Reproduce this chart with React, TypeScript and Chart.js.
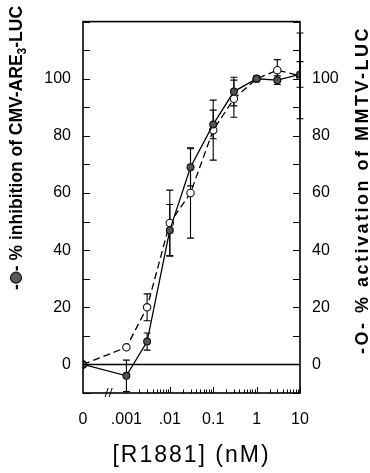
import React, { useEffect, useRef } from 'react';
import { Chart, registerables } from 'chart.js';

Chart.register(...registerables);

// ---- data ----
const DOSES = [0, 0.001, 0.003, 0.01, 0.03, 0.1, 0.3, 1, 3, 10];
const INHIBITION = [0, -4, 8, 47, 69, 84, 95.5, 100, 99.5, 101.5];
const INHIBITION_ERR = [0, 5.5, 3, 9, 6.5, 5, 5, 1, 1.5, 4.5];
const ACTIVATION = [0, 6, 20, 49.5, 60, 82, 93, 100, 103, 101];
const ACTIVATION_ERR = [0, 0, 4.7, 11.5, 15.8, 10.5, 6.5, 0, 3.7, 15];

const X_TICK_VALUES = [0, 0.001, 0.01, 0.1, 1, 10];
const X_TICK_LABELS = ['0', '.001', '.01', '0.1', '1', '10'];
const Y_LABEL_VALUES = [0, 20, 40, 60, 80, 100];
const Y_MIN = -10;
const Y_MAX = 120;
const Y_STEP = 10;

// the dose "0" sits at the left end of the broken log axis
const ZERO_AT = 1e-4;
const BREAK_AT = 4e-4;
const MINOR_FROM_EXP = -3;
const MINOR_TO_EXP = 1;

const FONT = '"Liberation Sans", Arial, Helvetica, sans-serif';

const toX = (d: number) => (d === 0 ? ZERO_AT : d);

function drawParts(
  ctx: CanvasRenderingContext2D,
  cx: number,
  cy: number,
  parts: any[],
  font: string,
  subFont: string,
  spacing: number
) {
  ctx.save();
  ctx.translate(cx, cy);
  ctx.rotate(-Math.PI / 2);
  (ctx as any).letterSpacing = spacing + 'px';
  ctx.textBaseline = 'alphabetic';
  ctx.textAlign = 'left';
  const widths = parts.map((p) => {
    if (p.circle) return p.circle * 2 + 2;
    ctx.font = p.sub ? subFont : font;
    return ctx.measureText(p.sub ? p.sub : p.t).width;
  });
  const total = widths.reduce((a, b) => a + b, 0);
  let x = -total / 2;
  const base = 6;
  parts.forEach((p, i) => {
    if (p.circle) {
      ctx.beginPath();
      ctx.arc(x + widths[i] / 2, base - 6, p.circle, 0, Math.PI * 2);
      ctx.fillStyle = '#5a5a5a';
      ctx.fill();
      ctx.lineWidth = 1.2;
      ctx.strokeStyle = '#111';
      ctx.stroke();
    } else {
      ctx.fillStyle = '#000';
      ctx.font = p.sub ? subFont : font;
      ctx.fillText(p.sub ? p.sub : p.t, x, p.sub ? base + 4 : base);
    }
    x += widths[i];
  });
  ctx.restore();
}

const decorPlugin = {
  id: 'decor',
  beforeDatasetsDraw(chart: any) {
    const { ctx, chartArea } = chart;
    const xs = chart.scales.x;
    const ys = chart.scales.y;
    ctx.save();
    // zero line
    ctx.strokeStyle = '#000';
    ctx.lineWidth = 1.4;
    const y0 = Math.round(ys.getPixelForValue(0)) + 0.5;
    ctx.beginPath();
    ctx.moveTo(chartArea.left, y0);
    ctx.lineTo(chartArea.right, y0);
    ctx.stroke();
    // error bars
    const series = [
      [INHIBITION, INHIBITION_ERR],
      [ACTIVATION, ACTIVATION_ERR],
    ];
    ctx.lineWidth = 1.1;
    series.forEach(([vals, errs]) => {
      DOSES.forEach((d, i) => {
        const e = errs[i];
        if (!e) return;
        const px = xs.getPixelForValue(toX(d));
        const yt = ys.getPixelForValue(vals[i] + e);
        const yb = ys.getPixelForValue(vals[i] - e);
        ctx.beginPath();
        ctx.moveTo(px, yt);
        ctx.lineTo(px, yb);
        ctx.moveTo(px - 3.5, yt);
        ctx.lineTo(px + 3.5, yt);
        ctx.moveTo(px - 3.5, yb);
        ctx.lineTo(px + 3.5, yb);
        ctx.stroke();
      });
    });
    ctx.restore();
  },
  afterDraw(chart: any) {
    const { ctx, chartArea } = chart;
    const xs = chart.scales.x;
    const ys = chart.scales.y;
    const { left, right, top, bottom } = chartArea;
    ctx.save();
    ctx.strokeStyle = '#000';
    ctx.lineWidth = 1.6;
    ctx.strokeRect(left, top, right - left, bottom - top);

    // inward ticks on both y axes
    ctx.lineWidth = 1.2;
    ys.ticks.forEach((t: any) => {
      const py = Math.round(ys.getPixelForValue(t.value)) + 0.5;
      ctx.beginPath();
      ctx.moveTo(left, py);
      ctx.lineTo(left + 7, py);
      ctx.moveTo(right, py);
      ctx.lineTo(right - 7, py);
      ctx.stroke();
    });

    // log minor / decade ticks on the bottom axis
    ctx.lineWidth = 1;
    for (let e = MINOR_FROM_EXP; e <= MINOR_TO_EXP; e++) {
      for (let k = 1; k <= 9; k++) {
        const v = k * Math.pow(10, e);
        if (v > 10 * 1.0001) break;
        const px = Math.round(xs.getPixelForValue(v)) + 0.5;
        const len = k === 1 ? 6 : 3.5;
        ctx.beginPath();
        ctx.moveTo(px, bottom);
        ctx.lineTo(px, bottom - len);
        ctx.stroke();
      }
    }

    // axis break marks
    const bx = xs.getPixelForValue(BREAK_AT);
    ctx.lineWidth = 1;
    ctx.beginPath();
    ctx.moveTo(bx - 4, bottom + 4);
    ctx.lineTo(bx - 1, bottom - 5);
    ctx.moveTo(bx, bottom + 4);
    ctx.lineTo(bx + 3, bottom - 5);
    ctx.stroke();
    ctx.restore();

    // x axis title
    ctx.save();
    (ctx as any).letterSpacing = '2px';
    ctx.font = '23px ' + FONT;
    ctx.fillStyle = '#000';
    ctx.textAlign = 'center';
    ctx.textBaseline = 'middle';
    ctx.fillText('[R1881] (nM)', (left + right) / 2, 456);
    ctx.restore();

    // left title
    drawParts(
      ctx,
      16,
      148,
      [
        { t: '-' },
        { circle: 5.5 },
        { t: '- % inhibition of CMV-ARE' },
        { sub: '3' },
        { t: '-LUC' },
      ],
      'bold 17.5px ' + FONT,
      'bold 12px ' + FONT,
      0
    );
    // right title
    drawParts(
      ctx,
      362,
      190,
      [{ t: '-O- % activation of MMTV-LUC' }],
      'bold 18px ' + FONT,
      'bold 12px ' + FONT,
      2.5
    );
  },
};

export default function App() {
  const ref = useRef<HTMLCanvasElement | null>(null);
  useEffect(() => {
    document.body.style.margin = '0';
    const canvas = ref.current;
    if (!canvas) return;
    const tickFont = { family: FONT, size: 16 };
    const chart = new Chart(canvas, {
      type: 'scatter',
      data: {
        datasets: [
          {
            label: 'inhibition',
            data: DOSES.map((d, i) => ({ x: toX(d), y: INHIBITION[i] })),
            showLine: true,
            borderColor: '#000',
            borderWidth: 1.3,
            pointRadius: 3.4,
            pointBorderWidth: 1.2,
            pointBackgroundColor: '#555',
            pointBorderColor: '#111',
            order: 0,
          },
          {
            label: 'activation',
            data: DOSES.map((d, i) => ({ x: toX(d), y: ACTIVATION[i] })),
            showLine: true,
            borderColor: '#000',
            borderWidth: 1.3,
            borderDash: [7, 4],
            pointRadius: 3.7,
            pointBorderWidth: 1.1,
            pointBackgroundColor: '#fff',
            pointBorderColor: '#111',
            order: 1,
          },
        ],
      },
      options: {
        animation: false,
        responsive: false,
        layout: { padding: { top: 15, left: 0, right: 0, bottom: 0 } },
        plugins: { legend: { display: false }, tooltip: { enabled: false } },
        scales: {
          x: {
            type: 'logarithmic',
            position: 'bottom',
            min: ZERO_AT,
            max: 10,
            afterBuildTicks: (s: any) => {
              s.ticks = X_TICK_VALUES.map((v) => ({ value: toX(v) }));
            },
            afterFit: (s: any) => {
              s.height = 80;
            },
            grid: { display: false, drawTicks: false },
            border: { display: false },
            ticks: {
              autoSkip: false,
              maxRotation: 0,
              padding: 17,
              color: '#000',
              font: tickFont,
              callback: (_v: any, i: number) => X_TICK_LABELS[i],
            },
          },
          y: {
            type: 'linear',
            position: 'left',
            min: Y_MIN,
            max: Y_MAX,
            afterFit: (s: any) => {
              s.width = 83;
            },
            grid: { display: false, drawTicks: false },
            border: { display: false },
            ticks: {
              stepSize: Y_STEP,
              autoSkip: false,
              padding: 12,
              color: '#000',
              font: tickFont,
              callback: (v: any) => (Y_LABEL_VALUES.includes(v) ? String(v) : ''),
            },
          },
          y2: {
            type: 'linear',
            position: 'right',
            min: Y_MIN,
            max: Y_MAX,
            afterFit: (s: any) => {
              s.width = 70;
            },
            grid: { display: false, drawTicks: false },
            border: { display: false },
            ticks: {
              stepSize: Y_STEP,
              autoSkip: false,
              padding: 12,
              color: '#000',
              font: tickFont,
              callback: (v: any) => (Y_LABEL_VALUES.includes(v) ? String(v) : ''),
            },
          },
        },
      },
      plugins: [decorPlugin],
    } as any);
    return () => chart.destroy();
  }, []);
  return (
    <div style={{ width: 370, height: 473, position: 'relative', background: '#fff' }}>
      <canvas ref={ref} width={370} height={473} style={{ display: 'block' }} />
    </div>
  );
}
